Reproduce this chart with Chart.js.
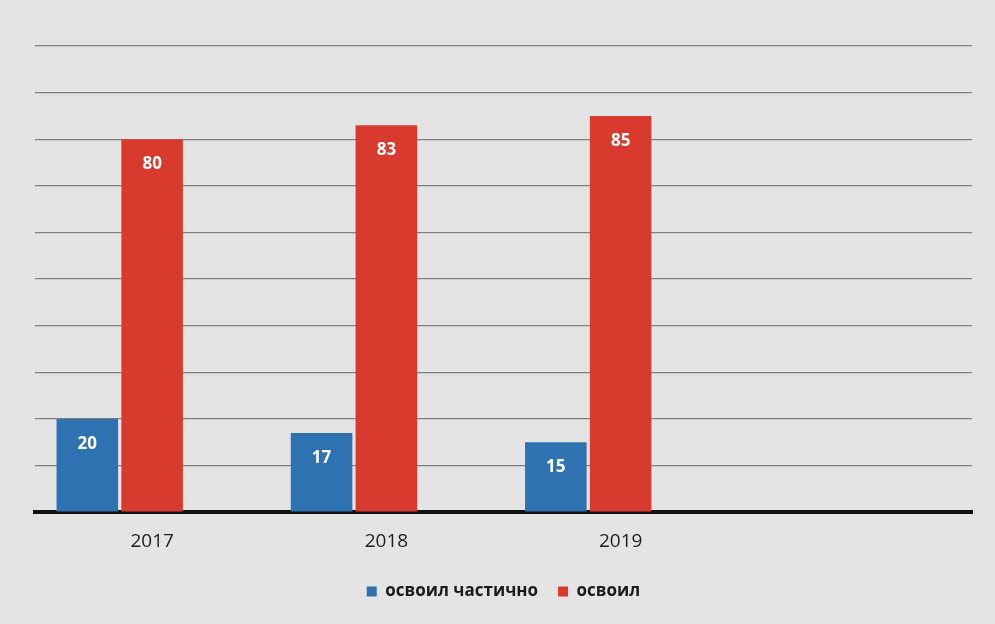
<!DOCTYPE html>
<html>
<head>
<meta charset="utf-8">
<script src="https://cdn.jsdelivr.net/npm/chart.js@4/dist/chart.umd.min.js"></script>
<style>
    html, body { margin: 0; padding: 0; background: #e4e4e4; }
    #box { width: 995px; height: 624px; }
</style>
</head>
<body>
<div id="box"><canvas id="chart"></canvas></div>
<script>
const years = [ '2017', '2018', '2019', '' ];
const partly = [ 20, 17, 15, null ];
const mastered = [ 80, 83, 85, null ];
// третий ряд в исходной диаграмме пустой
const notMastered = [ null, null, null, null ];
const seriesNames = [ 'освоил частично', 'освоил', '' ];

// подписи значений внутри столбцов
const barLabels = {
    id: 'barLabels',
    afterDatasetsDraw(chart){
        const ctx = chart.ctx;
        ctx.save();
        ctx.fillStyle = '#ffffff';
        ctx.font = 'bold 17px "Open Sans"';
        ctx.textAlign = 'center';
        ctx.textBaseline = 'middle';
        chart.data.datasets.forEach((ds, i)=>{
            chart.getDatasetMeta(i).data.forEach((bar, j)=>{
                if(ds.data[j] == null) return;
                ctx.fillText(ds.data[j], bar.x, bar.y + 25);
            });
        });
        ctx.restore();
    }
};

const ctx = document.getElementById('chart');
const chart = new Chart(ctx, {
    type: 'bar',
    data: {
        labels: years,
        datasets: [
            { label: seriesNames[0], data: partly, backgroundColor: '#2f72b2' },
            { label: seriesNames[1], data: mastered, backgroundColor: '#d93a2e' },
            { label: seriesNames[2], data: notMastered, backgroundColor: '#a5a5a5' }
        ]
    },
    options: {
        responsive: true,
        maintainAspectRatio: false,
        animation: false,
        layout: { padding: { left: 35, right: 23, top: 46, bottom: 14 } },
        datasets: { bar: { categoryPercentage: 0.83, barPercentage: 0.95 } },
        scales: {
            x: {
                grid: { display: false },
                border: { color: '#111111', width: 4 },
                ticks: { color: '#1e1e1e', font: { family: 'Open Sans', size: 19 }, padding: 10 }
            },
            y: {
                min: 0,
                max: 100,
                ticks: { display: false, stepSize: 10 },
                grid: { color: '#808080', lineWidth: 1.3, drawTicks: false },
                border: { display: false }
            }
        },
        plugins: {
            tooltip: { enabled: false },
            legend: {
                position: 'bottom',
                labels: {
                    color: '#1a1a1a',
                    boxWidth: 10,
                    boxHeight: 10,
                    padding: 20,
                    font: { family: 'Open Sans', size: 17, weight: 'bold' },
                    filter: item => item.text !== ''
                }
            }
        }
    },
    plugins: [ barLabels ]
});
</script>
</body>
</html>
